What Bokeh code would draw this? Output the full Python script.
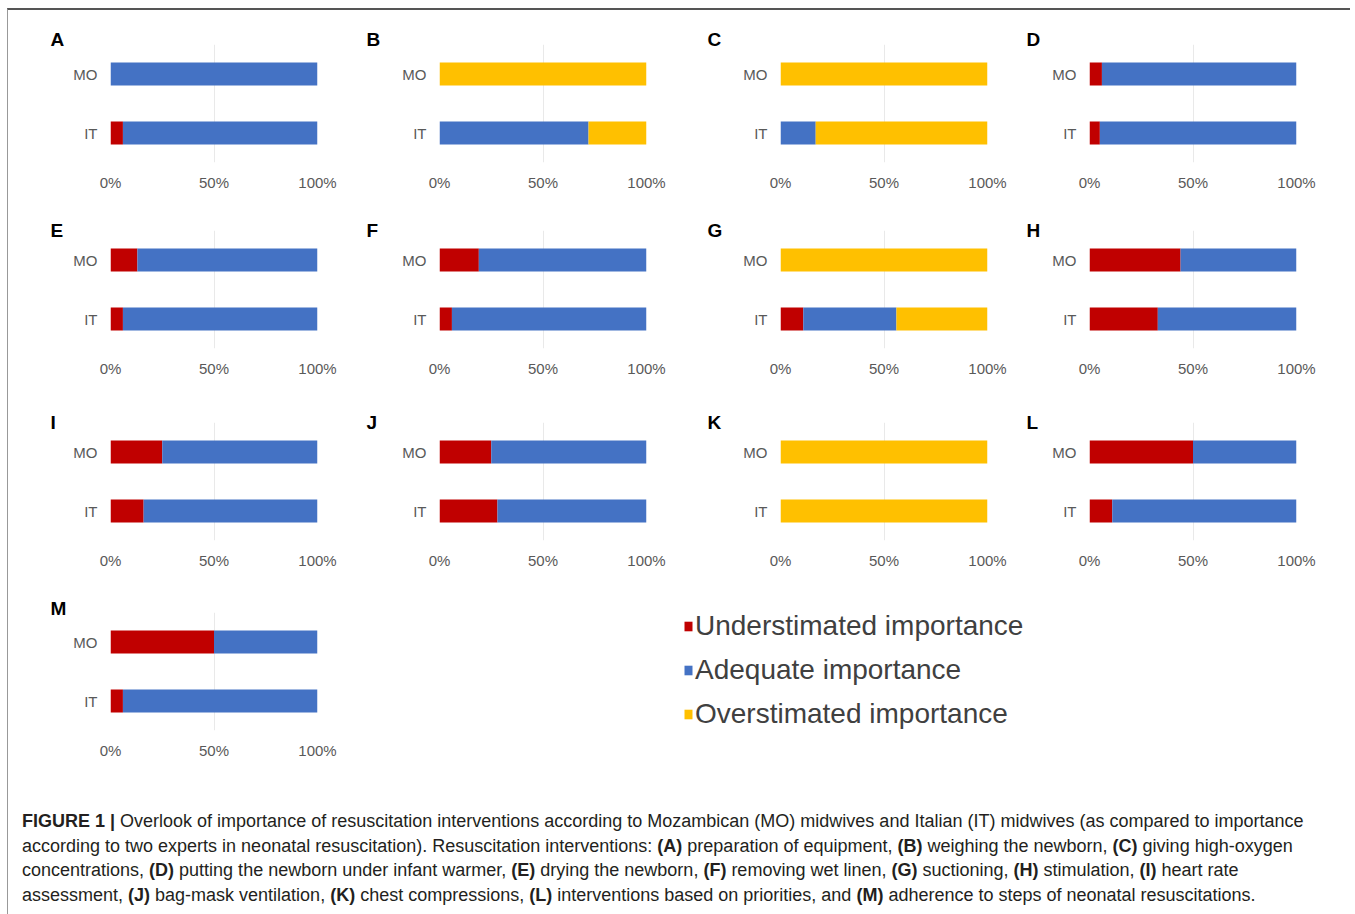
from bokeh.plotting import figure
from bokeh.models import (FactorRange, Range1d, FixedTicker, Legend,
                          LegendItem, Div, ColumnDataSource)
from bokeh.layouts import row, column
from bokeh.embed import file_html
from bokeh.resources import INLINE

# ---------------- data ----------------
panels = ["A", "B", "C", "D", "E", "F", "G", "H", "I", "J", "K", "L", "M"]
groups = ["IT", "MO"]
series = ["Understimated importance", "Adequate importance", "Overstimated importance"]
mo_under    = [0,   0,   0,   6, 13, 19,   0, 44, 25, 25,   0, 50, 50]
mo_adequate = [100, 0,   0,  94, 87, 81,   0, 56, 75, 75,   0, 50, 50]
mo_over     = [0, 100, 100,   0,  0,  0, 100,  0,  0,  0, 100,  0,  0]
it_under    = [6,   0,   0,   5,  6,  6,  11, 33, 16, 28,   0, 11,  6]
it_adequate = [94, 72,  17,  95, 94, 94,  45, 67, 84, 72,   0, 89, 94]
it_over     = [0,  28,  83,   0,  0,  0,  44,  0,  0,  0, 100,  0,  0]
tick_values = [0, 50, 100]
tick_labels = ["0%", "50%", "100%"]

colors = ["#C00000", "#4472C4", "#FFC000"]
FONT = "Liberation Sans"

FW, FH = 207, 118
col_L = [102, 100, 112, 80]
col_R = [22, 22, 22, 44]
col_dx = [-60, -73, -73, -63]
row_T = 34
row_B = [34, 40, 38, 70]
row_standoff = [-10, -21, -21, -13]


def panel_source(i):
    return ColumnDataSource(dict(
        group=groups,
        under=[it_under[i], mo_under[i]],
        adequate=[it_adequate[i], mo_adequate[i]],
        over=[it_over[i], mo_over[i]],
    ))


def make_panel(i, L, R, B, dx, standoff):
    p = figure(frame_width=FW, frame_height=FH,
               x_range=Range1d(0, 100), y_range=FactorRange(*groups),
               toolbar_location=None, output_backend="svg",
               min_border_left=L, min_border_right=R,
               min_border_top=row_T, min_border_bottom=B,
               title=panels[i])
    rs = p.hbar_stack(["under", "adequate", "over"], y="group", height=0.39,
                      color=colors, line_color=None, source=panel_source(i))
    p.outline_line_color = None
    p.ygrid.grid_line_color = None
    p.xgrid.ticker = FixedTicker(ticks=tick_values)
    p.xgrid.grid_line_color = "#e9e9e9"
    p.xaxis.ticker = FixedTicker(ticks=tick_values)
    p.xaxis.major_label_overrides = dict(zip(tick_values, tick_labels))
    for ax in (p.xaxis[0], p.yaxis[0]):
        ax.axis_line_color = None
        ax.major_tick_line_color = None
        ax.minor_tick_line_color = None
        ax.major_tick_out = 0
        ax.major_tick_in = 0
        ax.minor_tick_out = 0
        ax.minor_tick_in = 0
        ax.major_label_text_font = FONT
        ax.major_label_text_font_size = "15px"
        ax.major_label_text_color = "#595959"
    p.xaxis.major_label_standoff = 11
    p.yaxis.major_label_standoff = 13
    p.title.align = "left"
    p.title.offset = dx
    p.title.standoff = standoff
    p.title.text_font = FONT
    p.title.text_font_size = "19px"
    p.title.text_font_style = "bold"
    p.title.text_color = "#000000"
    return p, rs


rows = []
last = None
for r in range(4):
    figs = []
    for c in range(4):
        i = r * 4 + c
        if i >= len(panels):
            break
        R = (1332 - col_L[0] - FW) if i == 12 else col_R[c]
        p, rs = make_panel(i, col_L[c], R, row_B[r], col_dx[c], row_standoff[r])
        figs.append(p)
        last = (p, rs)
    rows.append(figs)

pm, rs = last
legend = Legend(items=[LegendItem(label=s, renderers=[rr]) for s, rr in zip(series, rs)],
                location=(366, -6), orientation="vertical",
                label_text_font=FONT, label_text_font_size="28px",
                label_text_color="#404040", glyph_width=10, glyph_height=12,
                label_standoff=2, label_height=44, spacing=0, padding=0,
                margin=0, border_line_color=None, background_fill_alpha=0,
                click_policy="none")
pm.add_layout(legend, "right")

caption = ("<b>FIGURE 1 |</b> Overlook of importance of resuscitation interventions according to "
           "Mozambican (MO) midwives and Italian (IT) midwives (as compared to importance<br>"
           "according to two experts in neonatal resuscitation). Resuscitation interventions: "
           "<b>(A)</b> preparation of equipment, <b>(B)</b> weighing the newborn, <b>(C)</b> giving high-oxygen<br>"
           "concentrations, <b>(D)</b> putting the newborn under infant warmer, <b>(E)</b> drying the newborn, "
           "<b>(F)</b> removing wet linen, <b>(G)</b> suctioning, <b>(H)</b> stimulation, <b>(I)</b> heart rate<br>"
           "assessment, <b>(J)</b> bag-mask ventilation, <b>(K)</b> chest compressions, "
           "<b>(L)</b> interventions based on priorities, and <b>(M)</b> adherence to steps of neonatal resuscitations.")
div = Div(text=caption, width=1332, height=104,
          styles={"font-family": "Liberation Sans, Arial, sans-serif", "font-size": "18px",
                  "line-height": "24.7px", "color": "#231f20", "padding-left": "9px",
                  "padding-top": "4px", "white-space": "nowrap", "box-sizing": "border-box"})

root = column(*[row(*f) for f in rows], div,
              styles={"border-top": "2px solid #555555", "border-left": "1px solid #999999",
                      "margin-top": "8px", "margin-left": "7px"})

open("out.html", "w").write(file_html(root, INLINE))
